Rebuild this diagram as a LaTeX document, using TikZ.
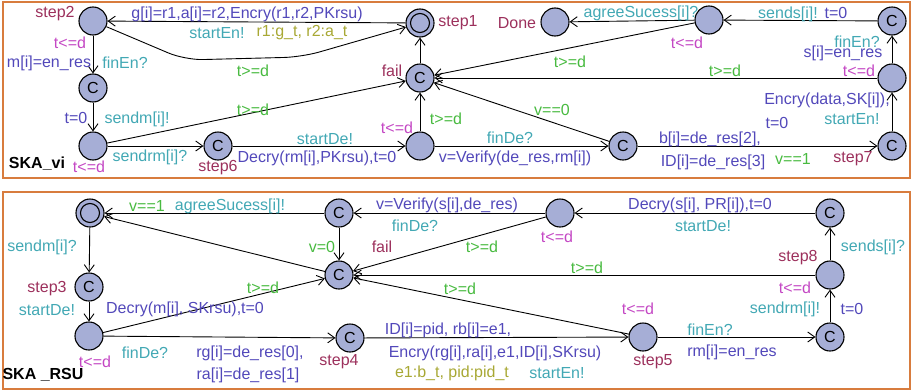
\documentclass[tikz,border=0pt]{standalone}
\usepackage{fontspec}
\setmainfont{Liberation Sans}
\usetikzlibrary{arrows.meta}

\definecolor{locfill}{RGB}{166,174,214}
\definecolor{frame}{RGB}{216,124,62}
\definecolor{asgcol}{RGB}{82,72,186}
\definecolor{synccol}{RGB}{66,168,180}
\definecolor{guardcol}{RGB}{72,186,64}
\definecolor{invcol}{RGB}{196,72,196}
\definecolor{namecol}{RGB}{156,48,92}
\definecolor{selcol}{RGB}{168,168,52}

\tikzset{
  loc/.style={circle, draw=black, fill=locfill, line width=1.1pt,
              minimum size=28pt, inner sep=0pt, font=\fontsize{16}{18}\selectfont},
  trans/.style={draw, line width=0.9pt, -{Straight Barb[length=7pt,width=10pt]}},
  lbl/.style={inner sep=0pt, font=\fontsize{16}{18}\selectfont},
  asg/.style={lbl, text=asgcol},
  syn/.style={lbl, text=synccol},
  grd/.style={lbl, text=guardcol},
  inv/.style={lbl, text=invcol},
  lname/.style={lbl, text=namecol},
  sel/.style={lbl, text=selcol},
  title/.style={inner sep=0pt, font=\fontsize{16}{18}\selectfont\bfseries},
  panel/.style={draw=frame, line width=1.6pt}
}

\begin{document}
\begin{tikzpicture}[x=1pt,y=-1pt]
\useasboundingbox (0,0) rectangle (912,391);

% ---------- panels ----------
\draw[panel] (3,2) rectangle (910,178);
\draw[panel] (3,192) rectangle (910,389);

% ================= SKA_vi =================
\node[loc] (s2)   at (93,21)  {};
\node[loc] (c1)   at (93,88)  {C};
\node[loc] (n1)   at (93,146) {};
\node[loc] (s6)   at (218,146) {C};
\node[loc] (s1)   at (420,23) {};
\draw[line width=1.1pt] (s1.center) circle (9.5pt);
\node[loc] (fail) at (420,78) {C};
\node[loc] (n2)   at (420,146) {};
\node[loc] (done) at (555,22) {};
\node[loc] (n3)   at (709,20) {};
\node[loc] (c2)   at (892,21) {C};
\node[loc] (n4)   at (892,78) {};
\node[loc] (s7)   at (892,146) {C};
\node[loc] (c3)   at (623,146) {C};

\coordinate (k1) at (185,60);
\coordinate (k2) at (302,57);

\path[trans] (s1) -- (s2);
\draw[trans, rounded corners=18pt] (s2) -- (k1) -- (k2) -- (s1);
\path[trans] (s2) -- (c1);
\path[trans] (c1) -- (n1);
\path[trans] (n1) -- (s6);
\path[trans] (n1) -- (fail);
\path[trans] (s6) -- (n2);
\path[trans] (n2) -- (fail);
\path[trans] (fail) -- (s1);
\path[trans] (n2) -- (c3);
\path[trans] (c3) -- (fail);
\path[trans] (c3) -- (s7);
\path[trans] (s7) -- (n4);
\path[trans] (n4) -- (c2);
\path[trans] (n4) -- (fail);
\path[trans] (c2) -- (n3);
\path[trans] (n3) -- (done);
\path[trans] (n3) -- (fail);

% location names and invariants
\node[lname] (ls2) at (55,14) {step2};
\node[lname] (ls6) at (218,168) {step6};
\node[lname] (ls1) at (458,23) {step1};
\node[lname] (ldn) at (517,23) {Done};
\node[lname] (lfl) at (392,71) {fail};
\node[lname] (ls7) at (853,159) {step7};
\node[inv] (i1) at (70,43) {t<=d};
\node[inv] (i2) at (89,167) {t<=d};
\node[inv] (i3) at (397,128) {t<=d};
\node[inv] (i4) at (687,43) {t<=d};
\node[inv] (i5) at (859,71) {t<=d};
\node[title] (t1) at (37,164) {SKA\_vi};

% transition labels
\node[asg] at (247,14) {g[i]=r1,a[i]=r2,Encry(r1,r2,PKrsu)};
\node[syn] at (217,33) {startEn!};
\node[sel] at (302,33) {r1:g\_t, r2:a\_t};
\node[grd] at (253,71) {t>=d};
\node[asg] at (49,63) {m[i]=en\_res};
\node[syn] at (125,63) {finEn?};
\node[asg] at (76,118) {t=0};
\node[syn] at (137,119) {sendm[i]!};
\node[grd] at (253,110) {t>=d};
\node[syn] at (150,157) {sendrm[i]?};
\node[syn] at (325,139) {startDe!};
\node[asg] at (317,158) {Decry(rm[i],PKrsu),t=0};
\node[grd] at (446,119) {t>=d};
\node[syn] at (510,138) {finDe?};
\node[asg] at (515,158) {v=Verify(de\_res,rm[i])};
\node[grd] at (552,110) {v==0};
\node[grd] at (570,62) {t>=d};
\node[syn] at (641,13) {agreeSucess[i]?};
\node[syn] at (788,14) {sends[i]!};
\node[asg] at (836,13) {t=0};
\node[syn] at (857,42) {finEn?};
\node[asg] at (843,53) {s[i]=en\_res};
\node[grd] at (725,71) {t>=d};
\node[asg] at (827,100) {Encry(data,SK[i]),};
\node[asg] at (777,123) {t=0};
\node[syn] at (852,119) {startEn!};
\node[asg] at (710,139) {b[i]=de\_res[2],};
\node[asg] at (713,162) {ID[i]=de\_res[3]};
\node[grd] at (793,159) {v==1};

% ================= SKA _RSU =================
\node[loc] (init)  at (90,213) {};
\draw[line width=1.1pt] (init.center) circle (9.5pt);
\node[loc] (s3)    at (89,287) {C};
\node[loc] (na)    at (89,336) {};
\node[loc] (cv)    at (339,213) {C};
\node[loc] (bfail) at (339,275) {C};
\node[loc] (s4)    at (350,338) {C};
\node[loc] (nb)    at (560,213) {};
\node[loc] (c8)    at (830,213) {C};
\node[loc] (s8)    at (830,275) {};
\node[loc] (c5)    at (830,337) {C};
\node[loc] (s5)    at (643,337) {};

\path[trans] (init) -- (s3);
\path[trans] (s3) -- (na);
\path[trans] (na) -- (s4);
\path[trans] (na) -- (bfail);
\path[trans] (s4) -- (s5);
\path[trans] (s5) -- (bfail);
\path[trans] (s5) -- (c5);
\path[trans] (c5) -- (s8);
\path[trans] (s8) -- (bfail);
\path[trans] (s8) -- (c8);
\path[trans] (c8) -- (nb);
\path[trans] (nb) -- (cv);
\path[trans] (nb) -- (bfail);
\path[trans] (cv) -- (bfail);
\path[trans] (cv) -- (init);
\path[trans] (bfail) -- (init);

% location names and invariants
\node[lname] at (47,289) {step3};
\node[lname] at (339,362) {step4};
\node[lname] at (653,362) {step5};
\node[lname] at (798,258) {step8};
\node[lname] at (382,247) {fail};
\node[inv] at (95,362) {t<=d};
\node[inv] at (557,237) {t<=d};
\node[inv] at (638,309) {t<=d};
\node[inv] at (795,288) {t<=d};
\node[title] at (43,375) {SKA \_RSU};

% transition labels
\node[syn] at (42,247) {sendm[i]?};
\node[syn] at (47,310) {startDe!};
\node[asg] at (185,309) {Decry(m[i], SKrsu),t=0};
\node[grd] at (263,288) {t>=d};
\node[grd] at (147,206) {v==1};
\node[syn] at (230,206) {agreeSucess[i]!};
\node[syn] at (145,353) {finDe?};
\node[asg] at (250,353) {rg[i]=de\_res[0],};
\node[asg] at (248,375) {ra[i]=de\_res[1]};
\node[asg] at (447,205) {v=Verify(s[i],de\_res)};
\node[syn] at (415,226) {finDe?};
\node[grd] at (322,247) {v=0};
\node[grd] at (482,247) {t>=d};
\node[grd] at (587,268) {t>=d};
\node[grd] at (460,289) {t>=d};
\node[asg] at (448,330) {ID[i]=pid, rb[i]=e1,};
\node[asg] at (495,353) {Encry(rg[i],ra[i],e1,ID[i],SKrsu)};
\node[sel] at (452,373) {e1:b\_t, pid:pid\_t};
\node[syn] at (557,373) {startEn!};
\node[asg] at (700,205) {Decry(s[i], PR[i]),t=0};
\node[syn] at (703,226) {startDe!};
\node[syn] at (873,247) {sends[i]?};
\node[syn] at (785,309) {sendrm[i]!};
\node[asg] at (852,309) {t=0};
\node[syn] at (710,330) {finEn?};
\node[asg] at (732,352) {rm[i]=en\_res};
\end{tikzpicture}
\end{document}
